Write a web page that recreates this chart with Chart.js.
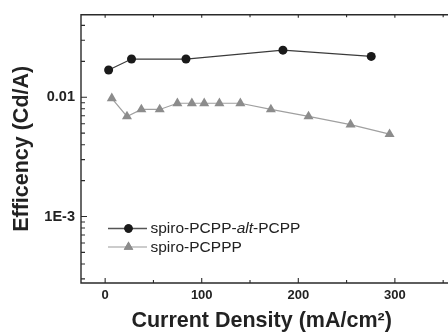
<!DOCTYPE html>
<html>
<head>
<meta charset="utf-8">
<script src="https://cdn.jsdelivr.net/npm/chart.js@4"></script>
<style>
  html, body { margin: 0; padding: 0; background: #fff; }
  #wrap { width: 448px; height: 332px; }
</style>
</head>
<body>
<div id="wrap"><canvas id="c" width="448" height="332"></canvas></div>
<script>
// data
var nameA = 'spiro-PCPP-alt-PCPP'
var nameB = 'spiro-PCPPP'
var densityA = [3.6, 27.3, 83.7, 184.1, 275.5]
var effA = [0.0169, 0.0209, 0.0209, 0.0248, 0.0220]
var densityB = [6.9, 22.6, 37.5, 56.5, 74.8, 89.8, 102.6, 118.3, 140, 171.6, 210.6, 254.1, 294.5]
var effB = [0.0098, 0.0069, 0.0079, 0.0079, 0.0089, 0.0089, 0.0089, 0.0089, 0.0089, 0.0079, 0.0069, 0.0059, 0.0049]

var xTicks = [0, 100, 200, 300]
var xMinorTicks = [-50, 50, 150, 250, 350]
var yTicks = [0.001, 0.01]
var yTickLabels = ['1E-3', '0.01']
var yMinorTicks = [0.0003, 0.0004, 0.0005, 0.0006, 0.0007, 0.0008, 0.0009,
  0.002, 0.003, 0.004, 0.005, 0.006, 0.007, 0.008, 0.009, 0.02, 0.03, 0.04]

var FONT = "'Liberation Sans', Arial, sans-serif"
var frameColor = '#2a2a2a'

function pts(xs, ys){
  var out = []
  for (var i = 0; i < xs.length; i++) out.push({x: xs[i], y: ys[i]})
  return out
}

// frame + inward ticks
var framePlugin = {
  id: 'frame',
  beforeDatasetsDraw: function(chart){
    var ctx = chart.ctx, a = chart.chartArea
    var xs = chart.scales.x, ys = chart.scales.y
    ctx.save()
    ctx.strokeStyle = frameColor
    ctx.lineWidth = 1.4
    ctx.beginPath()
    ctx.moveTo(chart.width, a.top); ctx.lineTo(a.left, a.top)
    ctx.lineTo(a.left, a.bottom); ctx.lineTo(chart.width, a.bottom)
    ctx.stroke()
    ctx.lineWidth = 1.1
    ctx.beginPath()
    xTicks.forEach(function(v){
      var px = xs.getPixelForValue(v)
      ctx.moveTo(px, a.bottom); ctx.lineTo(px, a.bottom - 5)
      ctx.moveTo(px, a.top); ctx.lineTo(px, a.top + 3)
    })
    xMinorTicks.forEach(function(v){
      var px = xs.getPixelForValue(v)
      if (px < a.left || px > chart.width) return
      ctx.moveTo(px, a.bottom); ctx.lineTo(px, a.bottom - 3)
      ctx.moveTo(px, a.top); ctx.lineTo(px, a.top + 2.5)
    })
    yTicks.forEach(function(v){
      var py = ys.getPixelForValue(v)
      ctx.moveTo(a.left, py); ctx.lineTo(a.left + 6, py)
    })
    yMinorTicks.forEach(function(v){
      var py = ys.getPixelForValue(v)
      if (py < a.top || py > a.bottom) return
      ctx.moveTo(a.left, py); ctx.lineTo(a.left + 4, py)
    })
    ctx.stroke()
    ctx.restore()
  },
  afterDraw: function(chart){
    // legend with italic "alt"
    var ctx = chart.ctx
    var rows = [
      {y: 228.5, line: '#555', lw: 1.6, color: '#1a1a1a', style: 'circle', r: 4.2, parts: [['spiro-PCPP-', ''], ['alt', 'italic '], ['-PCPP', '']]},
      {y: 247, line: '#9a9a9a', lw: 1.1, color: '#8c8c8c', style: 'triangle', r: 5.5, parts: [['spiro-PCPPP', '']]}
    ]
    ctx.save()
    rows.forEach(function(row){
      ctx.strokeStyle = row.line
      ctx.lineWidth = row.lw
      ctx.beginPath(); ctx.moveTo(108, row.y); ctx.lineTo(147, row.y); ctx.stroke()
      ctx.fillStyle = row.color
      Chart.helpers.drawPoint(ctx, {pointStyle: row.style, radius: row.r, borderWidth: 0}, 128.5, row.y)
      ctx.fill()
      var x = 150.5
      ctx.fillStyle = '#222'
      ctx.textBaseline = 'middle'
      row.parts.forEach(function(p){
        ctx.font = p[1] + '15.5px ' + FONT
        ctx.fillText(p[0], x, row.y + 0.5)
        x += ctx.measureText(p[0]).width
      })
    })
    ctx.restore()
  }
}

var ctx = document.getElementById('c').getContext('2d')
var chart = new Chart(ctx, {
  type: 'line',
  data: {
    datasets: [
      {
        label: nameA,
        data: pts(densityA, effA),
        borderColor: '#3a3a3a',
        backgroundColor: '#1a1a1a',
        borderWidth: 1.2,
        pointStyle: 'circle',
        pointRadius: 4.5,
        pointBorderWidth: 0,
        tension: 0
      },
      {
        label: nameB,
        data: pts(densityB, effB),
        borderColor: '#a0a0a0',
        backgroundColor: '#8c8c8c',
        borderWidth: 1.2,
        pointStyle: 'triangle',
        pointRadius: 5.8,
        pointBorderWidth: 0,
        tension: 0
      }
    ]
  },
  options: {
    responsive: false,
    animation: false,
    devicePixelRatio: 1,
    layout: { padding: { top: 13, right: 0, left: 0, bottom: 0 } },
    plugins: { legend: { display: false }, tooltip: { enabled: false } },
    scales: {
      x: {
        type: 'linear',
        min: -25,
        max: 349,
        grid: { display: false, drawTicks: false },
        border: { display: false },
        afterFit: function(s){ s.height = 49 },
        afterBuildTicks: function(s){ s.ticks = xTicks.map(function(v){ return {value: v} }) },
        ticks: {
          padding: 5,
          color: '#222',
          font: { family: FONT, size: 13, weight: 'bold' },
          callback: function(v){ return String(v) }
        },
        title: {
          display: true,
          text: 'Current Density (mA/cm²)',
          color: '#222',
          font: { family: FONT, size: 21.5, weight: 'bold', lineHeight: 1 },
          padding: { top: 0, bottom: 0.5 }
        }
      },
      y: {
        type: 'logarithmic',
        min: 0.000277,
        max: 0.0492,
        grid: { display: false, drawTicks: false },
        border: { display: false },
        afterFit: function(s){ s.width = 81 },
        afterBuildTicks: function(s){ s.ticks = yTicks.map(function(v){ return {value: v} }) },
        ticks: {
          padding: 6,
          color: '#222',
          font: { family: FONT, size: 14.5, weight: 'bold' },
          callback: function(v){
            var i = yTicks.indexOf(v)
            return i >= 0 ? yTickLabels[i] : ''
          }
        },
        title: {
          display: true,
          text: 'Efficency (Cd/A)',
          color: '#222',
          font: { family: FONT, size: 21.5, weight: 'bold', lineHeight: 1 },
          padding: { top: 11.5, bottom: 0 }
        }
      }
    }
  },
  plugins: [framePlugin]
})
</script>
</body>
</html>
